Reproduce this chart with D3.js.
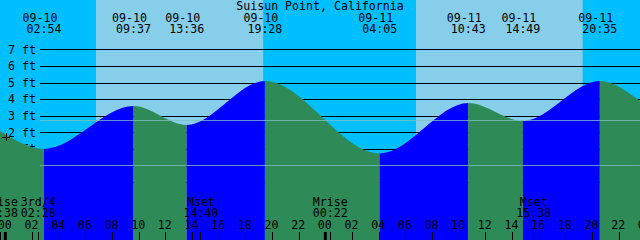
<!DOCTYPE html>
<html>
<head>
<meta charset="utf-8">
<script src="https://cdn.jsdelivr.net/npm/d3@7"></script>
<style>
  html, body { margin: 0; padding: 0; background: #fff; }
  svg { display: block; }
  text { font-family: "DejaVu Sans Mono", monospace; font-size: 11.6px; fill: #000; }
</style>
</head>
<body>
<div id="chart"></div>
<script>
const title = 'Suisun Point, California';

// tide extremes (date, time, level in ft)
const tideDates = ['09-10', '09-10', '09-10', '09-10', '09-11', '09-11', '09-11', '09-11'];
const tideTimes = ['02:54', '09:37', '13:36', '19:28', '04:05', '10:43', '14:49', '20:35'];
const tideLevels = [1.0, 3.58, 2.44, 5.09, 0.73, 3.76, 2.68, 5.09];
// level where the curve meets the left and right edges
const edgeHours = [-0.4, 47.6];
const edgeLevels = [2.08, 3.88];

// sun: day periods (rise, set)
const sunRise = ['09-10 06:48', '09-11 06:48'];
const sunSet = ['09-10 19:20', '09-11 19:18'];

// moon events along the bottom
const moonLabels = ['Mrise', '3rd/4', 'Mset', 'Mrise', 'Mset'];
const moonTimes = ['09-09 23:38', '09-10 02:28', '09-10 14:40', '09-11 00:22', '09-11 15:38'];

const levelTicks = [-1, 0, 1, 2, 3, 4, 5, 6, 7];
const hourTicks = [0, 2, 4, 6, 8, 10, 12, 14, 16, 18, 20, 22, 24, 26, 28, 30, 32, 34, 36, 38, 40, 42, 44, 46, 48];
const midnights = [0, 24, 48];
const meanLevel = 2.71;
const datumLevel = 0;

const width = 640, height = 240;
const colors = {
  night: '#00bfff', day: '#87ceeb',
  rise: '#0000ff', fall: '#2e8b57',
  msl: '#80c0c0'
};

function toHour(dayStr, timeStr) {
  const day = +dayStr.split('-')[1] - 10;
  const [h, m] = timeStr.split(':').map(Number);
  return day * 24 + h + m / 60;
}
function stampHour(s) {
  const [d, t] = s.split(' ');
  return toHour(d, t);
}

const x = d3.scaleLinear().domain([0, 48]).range([5.33, 645.33]);
const y = d3.scaleLinear().domain([-1, 7]).range([182.1, 49.3]);

const extremes = tideDates.map((d, i) => ({
  date: d, time: tideTimes[i], hour: toHour(d, tideTimes[i]), level: tideLevels[i]
}));
const points = [{ hour: edgeHours[0], level: edgeLevels[0] }]
  .concat(extremes)
  .concat([{ hour: edgeHours[1], level: edgeLevels[1] }]);

const svg = d3.select('#chart').append('svg')
  .attr('width', width).attr('height', height);

// background: night then day bands
svg.append('rect').attr('width', width).attr('height', height).attr('fill', colors.night);
svg.selectAll('.day').data(sunRise.map((r, i) => [stampHour(r), stampHour(sunSet[i])]))
  .enter().append('rect')
  .attr('class', 'day')
  .attr('x', d => x(d[0]))
  .attr('width', d => x(d[1]) - x(d[0]))
  .attr('y', 0).attr('height', height)
  .attr('fill', colors.day);

// level axis with grid lines across
const yAxis = svg.append('g')
  .attr('transform', `translate(${width},0)`)
  .call(d3.axisLeft(y).tickValues(levelTicks).tickSize(width - 40).tickPadding(4)
    .tickFormat(d => `${d} ft`));
yAxis.select('.domain').remove();
yAxis.selectAll('line').attr('stroke', '#000').attr('shape-rendering', 'crispEdges');
yAxis.selectAll('text').attr('font-family', null).attr('font-size', null);

// water, coloured by rising / falling
const area = d3.area()
  .x(d => x(d.hour))
  .y0(height)
  .y1(d => y(d.level))
  .curve(d3.curveMonotoneX);
const defs = svg.append('defs');
points.slice(1).forEach((p, i) => {
  const prev = points[i];
  const id = 'seg' + i;
  defs.append('clipPath').attr('id', id)
    .append('rect')
    .attr('x', x(prev.hour)).attr('width', x(p.hour) - x(prev.hour))
    .attr('y', 0).attr('height', height);
  svg.append('path')
    .datum(points)
    .attr('clip-path', `url(#${id})`)
    .attr('d', area)
    .attr('fill', p.level > prev.level ? colors.rise : colors.fall);
});

// mean level and datum lines
svg.selectAll('.ref').data([meanLevel, datumLevel]).enter().append('line')
  .attr('x1', 40).attr('x2', width)
  .attr('y1', d => y(d)).attr('y2', d => y(d))
  .attr('stroke', colors.msl).attr('stroke-opacity', 0.75)
  .attr('shape-rendering', 'crispEdges');

// small cross mark
const markHour = 0.07, markLevel = 1.7;
svg.append('path')
  .attr('d', `M${x(markHour) - 4},${y(markLevel)}h8M${x(markHour)},${y(markLevel) - 4}v8`)
  .attr('stroke', '#000').attr('shape-rendering', 'crispEdges');

// title
svg.append('text').attr('x', 320).attr('y', 9.5).attr('text-anchor', 'middle').text(title);

// extreme labels on top
const extLabels = svg.selectAll('.ext').data(extremes).enter().append('g')
  .attr('transform', d => `translate(${x(d.hour)},0)`);
extLabels.append('text').attr('x', -4).attr('y', 21.7).attr('text-anchor', 'middle').text(d => d.date);
extLabels.append('text').attr('y', 33.3).attr('text-anchor', 'middle').text(d => d.time);

// moon events
const moon = moonTimes.map((t, i) => ({ label: moonLabels[i], time: t.split(' ')[1], hour: stampHour(t) }));
const mg = svg.selectAll('.moon').data(moon).enter().append('g')
  .attr('transform', d => `translate(${x(d.hour)},0)`);
mg.append('text').attr('y', 205.7).attr('text-anchor', 'middle').text(d => d.label);
mg.append('text').attr('y', 217.3).attr('text-anchor', 'middle').text(d => d.time);
mg.append('line').attr('y1', 232).attr('y2', height)
  .attr('stroke', '#000').attr('shape-rendering', 'crispEdges');

// hour axis along the bottom
const xAxis = svg.append('g')
  .attr('transform', `translate(0,${height})`)
  .call(d3.axisTop(x).tickValues(hourTicks).tickSize(8).tickPadding(3)
    .tickFormat(d => String(d % 24).padStart(2, '0')));
xAxis.select('.domain').remove();
xAxis.selectAll('line').attr('stroke', '#000').attr('shape-rendering', 'crispEdges');
xAxis.selectAll('text').attr('font-family', null).attr('font-size', null).attr('dx', -1);

// thick marks at midnight
svg.selectAll('.midnight').data(midnights).enter().append('rect')
  .attr('x', d => x(d) - 1.5).attr('width', 3)
  .attr('y', 232).attr('height', 8)
  .attr('fill', '#000');
</script>
</body>
</html>
